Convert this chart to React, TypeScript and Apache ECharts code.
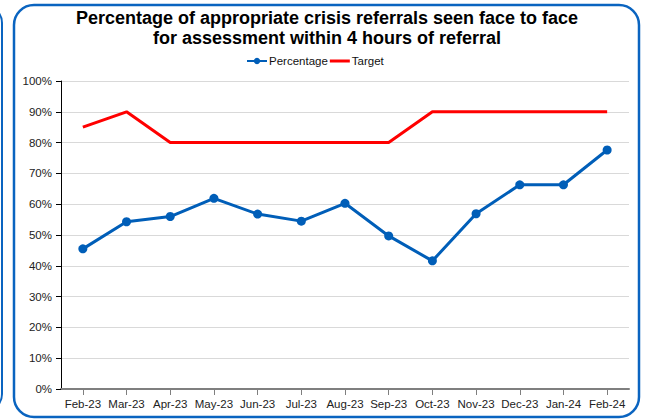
import React, { useEffect, useRef } from "react";
import * as echarts from "echarts";

const categories = ["Feb-23","Mar-23","Apr-23","May-23","Jun-23","Jul-23","Aug-23","Sep-23","Oct-23","Nov-23","Dec-23","Jan-24","Feb-24"];
const percentage = [45.5, 54.3, 56.0, 61.9, 56.8, 54.5, 60.3, 49.7, 41.6, 56.9, 66.3, 66.3, 77.6];
const target = [85, 90, 80, 80, 80, 80, 80, 80, 90, 90, 90, 90, 90];
const titleText = "Percentage of appropriate crisis referrals seen face to face\nfor assessment within 4 hours of referral";

export default function App() {
  const ref = useRef<HTMLDivElement>(null);
  useEffect(() => {
    document.body.style.margin = "0";
    const chart = echarts.init(ref.current!, null, { renderer: "svg" });
    const font = "Liberation Sans, Arial, sans-serif";
    chart.setOption({
      animation: false,
      backgroundColor: "#ffffff",
      textStyle: { fontFamily: font },
      title: {
        text: titleText,
        left: 322,
        textAlign: "center",
        top: 3,
        textStyle: { fontSize: 18, fontWeight: "bold", color: "#000", lineHeight: 20, fontFamily: font },
      },
      legend: {
        top: 50,
        left: 241,
        itemWidth: 20,
        itemHeight: 8,
        itemGap: 2,
        textStyle: { fontSize: 11.5, color: "#111", fontFamily: font, padding: [0, 0, 0, -3] },
        data: [
          { name: "Percentage" },
          { name: "Target", icon: "path://M0,0 h20 v3 h-20 z", itemStyle: { color: "#ff0000" } },
        ],
      },
      grid: { left: 61, right: 17, top: 81, bottom: 31 },
      xAxis: {
        type: "category",
        data: categories,
        boundaryGap: true,
        axisLine: { show: true, lineStyle: { color: "#7f7f7f", width: 2 } },
        axisTick: { show: true, alignWithLabel: true, length: 6, lineStyle: { color: "#7f7f7f", width: 1 } },
        axisLabel: { fontSize: 11.5, color: "#222", margin: 9, interval: 0, fontFamily: font },
        splitLine: { show: false },
      },
      yAxis: {
        type: "value",
        min: 0,
        max: 100,
        interval: 10,
        axisLine: { show: true, lineStyle: { color: "#000", width: 1 } },
        axisTick: { show: true, length: 5, lineStyle: { color: "#000" } },
        axisLabel: { formatter: "{value}%", fontSize: 11.5, color: "#222", margin: 9, fontFamily: font },
        splitLine: { show: true, lineStyle: { color: "#d9d9d9", width: 1 } },
      },
      series: [
        {
          name: "Percentage",
          type: "line",
          data: percentage,
          symbol: "circle",
          symbolSize: 9,
          lineStyle: { color: "#005eb8", width: 3 },
          itemStyle: { color: "#005eb8" },
          z: 3,
        },
        {
          name: "Target",
          type: "line",
          data: target,
          symbol: "none",
          lineStyle: { color: "#ff0000", width: 3 },
          itemStyle: { color: "#ff0000" },
          z: 2,
        },
      ],
      graphic: [
        {
          type: "rect",
          shape: { x: -600, y: 5, width: 602, height: 407, r: 18 },
          style: { fill: "none", stroke: "#0a64c0", lineWidth: 2 },
          silent: true,
        },
        {
          type: "rect",
          shape: { x: 14, y: 5, width: 625, height: 412, r: 20 },
          style: { fill: "none", stroke: "#0a64c0", lineWidth: 2.5 },
          silent: true,
        },
      ],
    });
    return () => chart.dispose();
  }, []);
  return <div ref={ref} style={{ position: "absolute", left: 0, top: 0, width: 646, height: 420 }} />;
}
